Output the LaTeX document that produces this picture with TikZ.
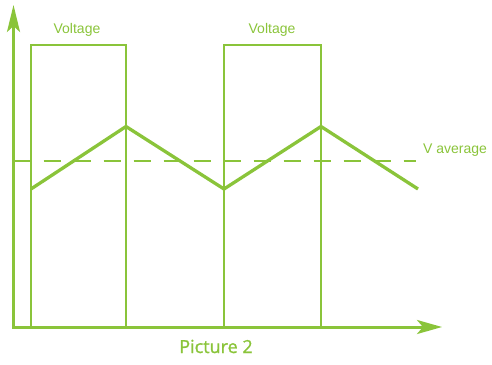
\documentclass[tikz,border=0pt]{standalone}
\usepackage{fontspec}
\setmainfont{Liberation Sans}
\newfontfamily\captionfont[FakeBold=1.2]{Open Sans}
\usetikzlibrary{arrows.meta}
\definecolor{wavegreen}{HTML}{8AC43A}

\begin{document}
\begin{tikzpicture}[x=1pt, y=-1pt, every node/.style={font=\fontsize{14}{16}\selectfont, text=wavegreen}]
            \useasboundingbox (0,0) rectangle (492,364);

            % Axes
            \coordinate (origin) at (13.5,327);
            \coordinate (ytip) at (13.5,5);
            \coordinate (xtip) at (442,327);
            \draw[wavegreen, line width=3pt, -{Stealth[length=27pt, width=13pt, inset=6pt]}] (origin) -- (ytip);
            \draw[wavegreen, line width=3pt, -{Stealth[length=25pt, width=14pt, inset=6pt]}] (12,327) -- (xtip);

            % Voltage pulses
            \draw[wavegreen, line width=2pt] (31,327) -- (31,45) -- (126,45) -- (126,327);
            \draw[wavegreen, line width=2pt] (224,327) -- (224,45) -- (321,45) -- (321,327);

            % Average level
            \draw[wavegreen, line width=2pt, dash pattern=on 17pt off 13pt] (13.5,161) -- (416,161);

            % Triangular ripple
            \draw[wavegreen, line width=3.3pt, line join=miter] (31,189) -- (126,126.5) -- (224,189) -- (321,126.5) -- (418,189);

            % Labels
            \node[anchor=base] (volt1) at (77,33) {Voltage};
            \node[anchor=base] (volt2) at (272,33) {Voltage};
            \node[anchor=base west, inner sep=0pt] (vavg) at (423,153) {V average};
            \node[anchor=base, font=\captionfont\fontsize{18}{20}\selectfont] (caption) at (216,353) {Picture 2};
        \end{tikzpicture}
\end{document}
